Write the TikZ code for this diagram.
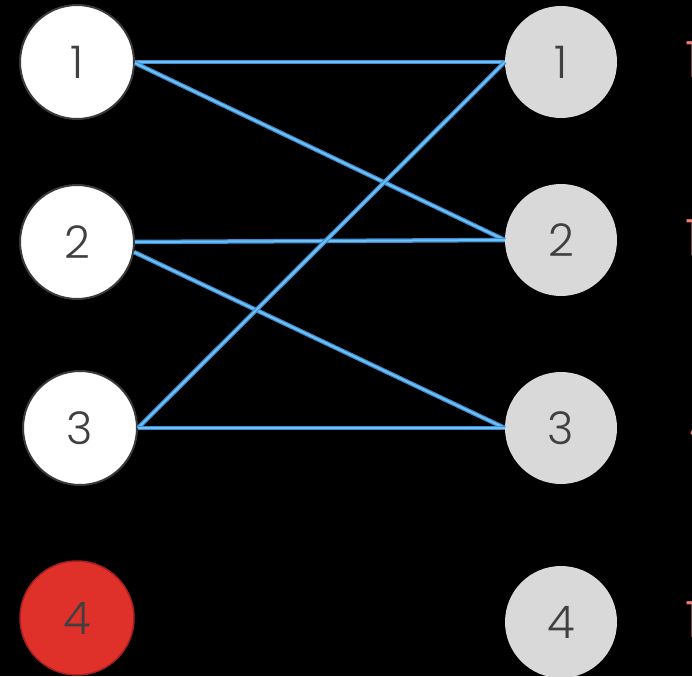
\documentclass[tikz,border=0pt]{standalone}
\usepackage{fontspec}
\setmainfont{Poppins Light}
\definecolor{bgblack}{HTML}{000000}
\definecolor{digitgray}{HTML}{404040}
\definecolor{ringgray}{HTML}{3A3A3A}
\definecolor{rightfill}{HTML}{D9D9D9}
\definecolor{alertred}{HTML}{E0302A}
\definecolor{alertedge}{HTML}{A82020}
\definecolor{edgeouter}{HTML}{3B8ED6}
\definecolor{edgeinner}{HTML}{72C0F2}
\definecolor{sidepink}{HTML}{F07B7B}
\tikzset{
  vertex/.style={circle, minimum size=114pt, inner sep=0pt, text=digitgray,
    font=\fontsize{45}{45}\selectfont},
  leftv/.style={vertex, fill=white, draw=ringgray, line width=2pt},
  rightv/.style={vertex, fill=rightfill, minimum size=112pt},
  redv/.style={vertex, fill=alertred, draw=alertedge, line width=1.5pt},
  match/.style={draw=edgeouter, line width=4.5pt,
    postaction={draw=edgeinner, line width=2pt}},
  sidelabel/.style={anchor=west, inner sep=0pt, text=sidepink,
    font=\fontsize{50}{50}\selectfont}
}
\begin{document}
\begin{tikzpicture}[x=1pt, y=-1pt]
  \fill[bgblack] (0,0) rectangle (692,676);
  \useasboundingbox (0,0) rectangle (692,676);
  \clip (0,0) rectangle (692,676);

  % left column
  \node[leftv] (L1) at (77,62) {1};
  \node[leftv] (L2) at (77,242) {2};
  \node[leftv] (L3) at (80,428) {3};
  \node[redv]  (L4) at (77,618) {4};

  % right column
  \node[rightv] (R1) at (561,62) {1};
  \node[rightv] (R2) at (561,240) {2};
  \node[rightv] (R3) at (561,428) {3};
  \node[rightv] (R4) at (561,622) {4};

  % labels running past the right edge
  \node[sidelabel] (S1) at (685,60) {1};
  \node[sidelabel] (S2) at (685,238) {1};
  \node[sidelabel] (S3) at (689,426) {4};
  \node[sidelabel] (S4) at (685,620) {1};

  % connections
  \draw[match] (L1.east) -- (R1.west);
  \draw[match] (L1.-1) -- (R2.west);
  \draw[match] (L2.east) -- (R2.west);
  \draw[match] (L2.-10) -- (R3.west);
  \draw[match] (L3.east) -- (R1.west);
  \draw[match] (L3.east) -- (R3.west);
\end{tikzpicture}
\end{document}
